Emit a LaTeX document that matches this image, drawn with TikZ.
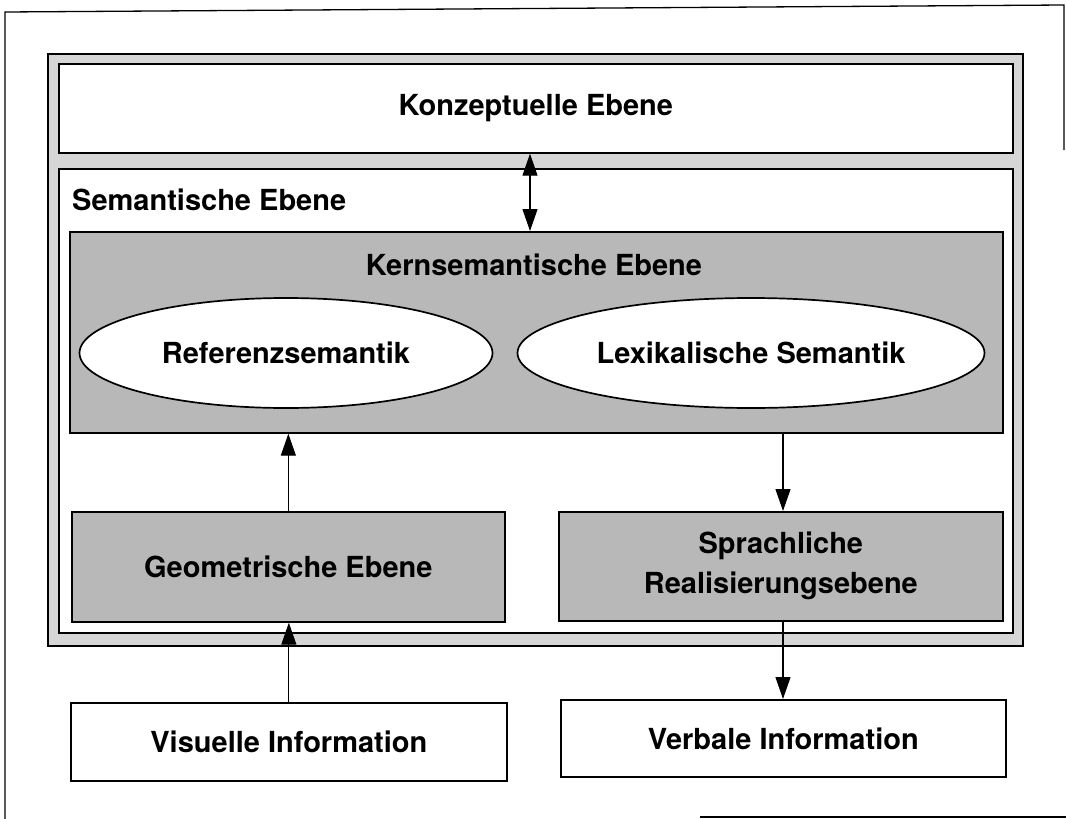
\documentclass[tikz,border=0pt]{standalone}
\usepackage{fontspec}
\setmainfont{TeX Gyre Heros}
\usetikzlibrary{shapes.geometric,arrows.meta}
\begin{document}
\begin{tikzpicture}[x=1pt,y=-1pt,
  lbl/.style={font=\fontsize{29}{38}\selectfont\bfseries, inner sep=0pt},
  boxline/.style={draw=black, line width=1.7pt},
  layer/.style={boxline, anchor=north west, inner sep=0pt, font=\fontsize{29}{40}\selectfont\bfseries, align=center},
  band/.style={fill=black!16},
  shade/.style={fill=black!28},
  oval/.style={ellipse, boxline, fill=white, inner sep=0pt, font=\fontsize{29}{38}\selectfont\bfseries},
  arr/.style={line width=1.2pt, -{Triangle[length=22pt,width=15pt]}},
  dblarr/.style={line width=1.2pt, {Triangle[length=22pt,width=15pt]}-{Triangle[length=22pt,width=15pt]}},
  pageline/.style={line width=1.3pt}
]
\useasboundingbox (0,0) rectangle (1066,819);
\fill[white] (0,0) rectangle (1066,819);

% page frame
\draw[pageline] (5,819) -- (5,12) -- (1064,5) -- (1064,150);
\draw[pageline] (700,817) -- (1066,817);

% grey double frame around both upper levels
\node[layer, band, minimum width=975, minimum height=592] (frame) at (47,53) {};
\node[layer, fill=white, minimum width=954, minimum height=89] (konz) at (58,63) {Konzeptuelle Ebene};
\node[layer, fill=white, minimum width=954, minimum height=464] (sem) at (58,168) {};
\node[lbl, anchor=base west] (semlbl) at (72,210) {Semantische Ebene};

% core semantic level
\node[layer, shade, minimum width=933, minimum height=201] (kern) at (69,231) {};
\node[lbl, anchor=base] (kernlbl) at (534,275) {Kernsemantische Ebene};
\node[oval, minimum width=413, minimum height=110] (ref) at (286,353) {Referenzsemantik};
\node[oval, minimum width=467, minimum height=110] (lex) at (751,353) {Lexikalische Semantik};

% lower semantic levels
\node[layer, shade, minimum width=433, minimum height=110] (geom) at (71,511) {Geometrische Ebene};
\node[layer, shade, minimum width=444, minimum height=109] (sprach) at (558,511) {Sprachliche\\Realisierungsebene};

% information sources
\node[layer, fill=white, minimum width=436, minimum height=78] (vis) at (70,702) {Visuelle Information};
\node[layer, fill=white, minimum width=445, minimum height=77] (verb) at (560,699) {Verbale Information};

% connectors
\coordinate (dx) at (530,0);
\draw[dblarr] (konz.south -| dx) -- (kern.north -| dx);
\draw[arr] (geom.north) -- (geom.north |- kern.south);
\draw[arr] (vis.north) -- (vis.north |- geom.south);
\coordinate (sx) at (783,0);
\draw[arr] (kern.south -| sx) -- (sprach.north -| sx);
\draw[arr] (sprach.south -| sx) -- (verb.north -| sx);
\end{tikzpicture}
\end{document}
